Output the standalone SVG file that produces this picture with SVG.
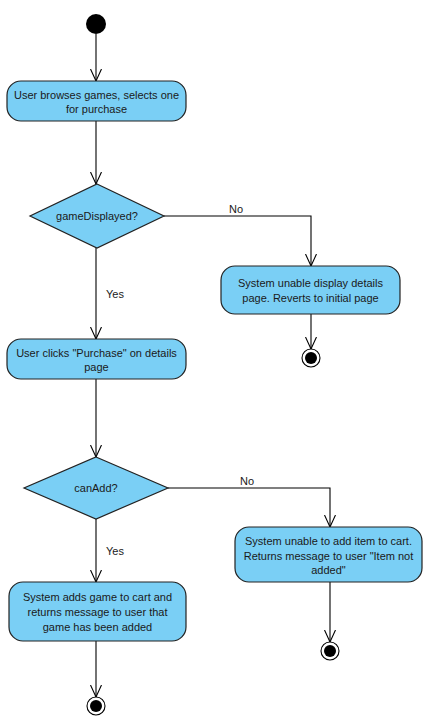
<svg xmlns="http://www.w3.org/2000/svg" width="427" height="719" viewBox="0 0 427 719">
<style>
.act{fill:#7ACFF5;stroke:#222;stroke-width:1.2}
.t{font-family:"Liberation Sans",Arial,sans-serif;font-size:11px;fill:#1a1a1a;text-anchor:middle}
.l{font-family:"Liberation Sans",Arial,sans-serif;font-size:11px;fill:#1a1a1a}
.c{fill:none;stroke:#000;stroke-width:1.1}
</style>
<defs>
<marker id="arr" viewBox="0 0 12 12" refX="12" refY="6" markerWidth="12" markerHeight="12" markerUnits="userSpaceOnUse" orient="auto">
<path d="M0,0.5 L12,6 L0,11.5" fill="none" stroke="#000" stroke-width="1.1"/>
</marker>
</defs>
<g id="connectors">
<path class="c" d="M96,34 V81" marker-end="url(#arr)"/>
<path class="c" d="M96,121 V184" marker-end="url(#arr)"/>
<path class="c" d="M164,216 H311 V266" marker-end="url(#arr)"/>
<text class="l" x="229" y="213">No</text>
<path class="c" d="M96,248 V339" marker-end="url(#arr)"/>
<text class="l" x="106" y="298">Yes</text>
<path class="c" d="M311,314 V349" marker-end="url(#arr)"/>
<path class="c" d="M96,379 V457" marker-end="url(#arr)"/>
<path class="c" d="M168,488 H330 V527" marker-end="url(#arr)"/>
<text class="l" x="240" y="485">No</text>
<path class="c" d="M96,519 V582" marker-end="url(#arr)"/>
<text class="l" x="106" y="555">Yes</text>
<path class="c" d="M330,582 V642" marker-end="url(#arr)"/>
<path class="c" d="M96,641 V697" marker-end="url(#arr)"/>
</g>
<g id="start">
<circle cx="96" cy="24" r="10" fill="#000"/>
</g>
<g id="browse">
<rect class="act" x="7" y="81" width="179" height="40" rx="14"/>
<text class="t" x="96.5" y="99">User browses games, selects one</text>
<text class="t" x="96.5" y="113">for purchase</text>
</g>
<g id="gameDisplayed">
<polygon class="act" points="97,184 164,216 97,248 30,216"/>
<text class="t" x="97" y="220">gameDisplayed?</text>
</g>
<g id="unableDisplay">
<rect class="act" x="221" y="266" width="179" height="48" rx="14"/>
<text class="t" x="310.5" y="287">System unable display details</text>
<text class="t" x="310.5" y="302">page.  Reverts to initial page</text>
</g>
<g id="end1">
<circle cx="311" cy="358" r="9" fill="#fff" stroke="#000" stroke-width="1.1"/>
<circle cx="311" cy="358" r="6" fill="#000"/>
</g>
<g id="clickPurchase">
<rect class="act" x="7" y="339" width="179" height="40" rx="14"/>
<text class="t" x="96.5" y="357">User clicks "Purchase" on details</text>
<text class="t" x="96.5" y="371">page</text>
</g>
<g id="canAdd">
<polygon class="act" points="96,457 168,488 96,519 24,488"/>
<text class="t" x="96" y="492">canAdd?</text>
</g>
<g id="unableAdd">
<rect class="act" x="235" y="527" width="187" height="55" rx="14"/>
<text class="t" x="328.5" y="545">System unable to add item to cart.</text>
<text class="t" x="328.5" y="560">Returns message to user "Item not</text>
<text class="t" x="328.5" y="574">added"</text>
</g>
<g id="end2">
<circle cx="330" cy="651" r="9" fill="#fff" stroke="#000" stroke-width="1.1"/>
<circle cx="330" cy="651" r="6" fill="#000"/>
</g>
<g id="addsGame">
<rect class="act" x="9" y="582" width="177" height="59" rx="14"/>
<text class="t" x="97.5" y="601">System adds game to cart and</text>
<text class="t" x="97.5" y="616">returns message to user that</text>
<text class="t" x="97.5" y="631">game has been added</text>
</g>
<g id="end3">
<circle cx="96" cy="706" r="9" fill="#fff" stroke="#000" stroke-width="1.1"/>
<circle cx="96" cy="706" r="6" fill="#000"/>
</g>
</svg>
